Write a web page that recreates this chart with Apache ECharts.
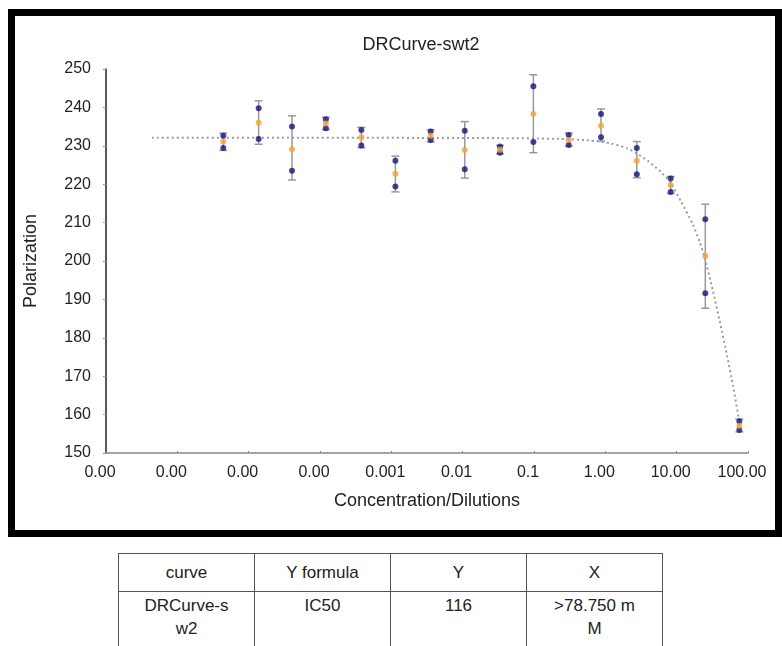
<!DOCTYPE html>
<html>
<head>
<meta charset="utf-8">
<script src="https://cdn.jsdelivr.net/npm/echarts@6/dist/echarts.min.js"></script>
<style>
  body { margin:0; background:#fff; width:782px; height:646px; overflow:hidden; position:relative; font-family:Arial, "Liberation Sans", sans-serif; }
  #frame { position:absolute; left:8px; top:9px; width:760px; height:514px; border:7px solid #000; }
  #chart { position:absolute; left:0; top:0; width:782px; height:540px; }
  #tbl { position:absolute; left:118px; top:553px; width:545px; border-collapse:collapse; font-size:17px; color:#222; }
  #tbl td { border:1px solid #555; text-align:center; width:25%; padding:0; }
  #tbl tr.h td { height:37px; }
  #tbl tr.r td { height:70px; vertical-align:top; padding-top:2px; line-height:23px; }
</style>
</head>
<body>
<div id="frame"></div>
<div id="chart"></div>
<table id="tbl">
  <tr class="h"><td>curve</td><td>Y formula</td><td>Y</td><td>X</td></tr>
  <tr class="r"><td>DRCurve-s<br>w2</td><td>IC50</td><td>116</td><td>&gt;78.750 m<br>M</td></tr>
</table>
<script>
// concentrations (log x)
var conc = [4.41e-6, 1.38e-5, 4.05e-5, 1.21e-4, 3.8e-4, 1.14e-3, 3.56e-3, 0.0107, 0.0334, 0.098, 0.307, 0.87, 2.76, 8.25, 25.2, 75.6];
var rep1 = [232.6, 239.8, 235.0, 236.9, 234.1, 226.1, 233.7, 233.9, 229.8, 245.5, 232.8, 238.3, 229.4, 221.5, 210.9, 158.3];
var rep2 = [229.4, 231.8, 223.5, 234.6, 230.1, 219.4, 231.5, 223.9, 228.2, 231.0, 230.2, 232.2, 222.6, 218.0, 191.6, 156.0];
var meanY = [231.1, 236.0, 229.1, 235.8, 232.2, 222.7, 232.6, 228.9, 229.0, 238.3, 231.5, 235.2, 226.1, 219.8, 201.3, 157.1];
var errLow = [228.8, 230.4, 221.1, 234.2, 229.5, 218.0, 231.0, 221.6, 227.9, 228.2, 229.9, 231.2, 221.7, 217.6, 187.7, 155.5];
var errHigh = [233.3, 241.7, 237.8, 237.4, 234.8, 227.3, 234.2, 236.3, 230.1, 248.5, 233.3, 239.6, 231.1, 222.0, 214.8, 158.8];
// fitted curve, points
var fitX = [4.4e-7, 5e-5, 0.0334, 0.232, 0.6, 1.2, 2.0, 2.75, 4.0, 6.0, 8.07, 11.5, 16.9, 21, 25.0, 32, 40.5, 50, 61.7, 75.6];
var fitY = [232.1, 232.1, 232.0, 231.8, 231.4, 230.6, 229.4, 228.0, 226.0, 223.2, 220.6, 215.5, 209.5, 205, 200.5, 192.5, 184, 176, 167.5, 158];
// x tick labels, one per decade from 1e-7 to 100
var xTickLabels = ['0.00', '0.00', '0.00', '0.00', '0.001', '0.01', '0.1', '1.00', '10.00', '100.00'];

function pairs(xs, ys) {
    return xs.map(function (x, i) { return [x, ys[i]]; });
}

var myChart = echarts.init(document.getElementById('chart'));
var option = {
    backgroundColor: 'transparent',
    animation: false,
    title: {
        text: 'DRCurve-swt2',
        left: 416,
        top: 31,
        textAlign: 'center',
        textStyle: { fontSize: 18, fontWeight: 'normal', color: '#222', fontFamily: 'Arial' }
    },
    grid: { left: 106, right: 34, top: 69, bottom: 87 },
    xAxis: {
        type: 'log',
        logBase: 10,
        min: 1e-7,
        max: 100,
        splitNumber: 9,
        name: 'Concentration/Dilutions',
        nameLocation: 'middle',
        nameGap: 39,
        nameTextStyle: { fontSize: 18, color: '#222', fontFamily: 'Arial' },
        axisLine: { lineStyle: { color: '#888', width: 1.5 } },
        axisTick: { show: true, inside: true, length: 2, lineStyle: { color: '#888' } },
        splitLine: { show: false },
        axisLabel: {
            fontSize: 16,
            color: '#222',
            fontFamily: 'Arial',
            margin: 12,
            padding: [0, 12, 0, 0],
            formatter: function (v) {
                var k = Math.round(Math.log(v) / Math.LN10) + 7;
                return xTickLabels[k] !== undefined ? xTickLabels[k] : '';
            }
        }
    },
    yAxis: {
        type: 'value',
        min: 150,
        max: 250,
        interval: 10,
        name: 'Polarization',
        nameLocation: 'middle',
        nameGap: 66,
        nameTextStyle: { fontSize: 18, color: '#222', fontFamily: 'Arial' },
        axisLine: { show: true, lineStyle: { color: '#222', width: 1.5 } },
        axisTick: { show: true, length: 3, lineStyle: { color: '#999' } },
        splitLine: { show: false },
        axisLabel: { fontSize: 16, color: '#222', fontFamily: 'Arial', margin: 15 }
    },
    series: [
        {
            name: 'fit',
            type: 'line',
            data: pairs(fitX, fitY),
            showSymbol: false,
            smooth: 0.2,
            lineStyle: { color: '#9a9aa4', width: 2, type: [2, 3] },
            z: 1
        },
        {
            name: 'error',
            type: 'custom',
            data: conc.map(function (c, i) { return [c, errLow[i], errHigh[i]]; }),
            renderItem: function (params, api) {
                var lo = api.coord([api.value(0), api.value(1)]);
                var hi = api.coord([api.value(0), api.value(2)]);
                var w = 4;
                var st = { stroke: '#999', lineWidth: 1.5 };
                return {
                    type: 'group',
                    children: [
                        { type: 'line', shape: { x1: lo[0], y1: lo[1], x2: hi[0], y2: hi[1] }, style: st },
                        { type: 'line', shape: { x1: lo[0] - w, y1: lo[1], x2: lo[0] + w, y2: lo[1] }, style: st },
                        { type: 'line', shape: { x1: hi[0] - w, y1: hi[1], x2: hi[0] + w, y2: hi[1] }, style: st }
                    ]
                };
            },
            z: 2
        },
        {
            name: 'rep1',
            type: 'scatter',
            data: pairs(conc, rep1),
            symbol: 'circle',
            symbolSize: 6,
            itemStyle: { color: '#16167e' },
            z: 3
        },
        {
            name: 'rep2',
            type: 'scatter',
            data: pairs(conc, rep2),
            symbol: 'circle',
            symbolSize: 6,
            itemStyle: { color: '#16167e' },
            z: 3
        },
        {
            name: 'mean',
            type: 'scatter',
            data: pairs(conc, meanY),
            symbol: 'circle',
            symbolSize: 6,
            itemStyle: { color: '#f2a33a' },
            z: 4
        }
    ]
};
myChart.setOption(option);
</script>
</body>
</html>
